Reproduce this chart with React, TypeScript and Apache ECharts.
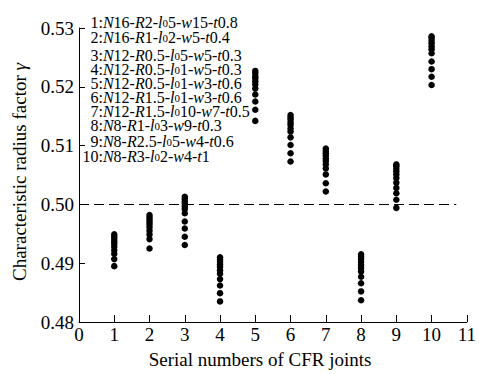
import React, { useEffect, useRef } from "react";
import * as echarts from "echarts";

const xTicks = [0, 1, 2, 3, 4, 5, 6, 7, 8, 9, 10, 11];
const yTicks = [0.48, 0.49, 0.5, 0.51, 0.52, 0.53];

const j1 = [0.4949, 0.4945, 0.4941, 0.4937, 0.4933, 0.4928, 0.4922, 0.4916, 0.4907, 0.4895];
const j2 = [0.4982, 0.4978, 0.4974, 0.497, 0.4966, 0.4961, 0.4955, 0.4949, 0.4941, 0.4925];
const j3 = [0.5013, 0.5009, 0.5005, 0.5001, 0.4997, 0.4992, 0.4985, 0.4971, 0.4959, 0.4945, 0.4931];
const j4 = [0.491, 0.4906, 0.4902, 0.4898, 0.4894, 0.4888, 0.4882, 0.4873, 0.4862, 0.4849, 0.4835];
const j5 = [0.5227, 0.5223, 0.5218, 0.5214, 0.5209, 0.5204, 0.5197, 0.5187, 0.5175, 0.5161, 0.5142];
const j6 = [0.5152, 0.5148, 0.5144, 0.5139, 0.5135, 0.5129, 0.5124, 0.5114, 0.5101, 0.5087, 0.5073];
const j7 = [0.5095, 0.5091, 0.5087, 0.5083, 0.5078, 0.5074, 0.5068, 0.5061, 0.5051, 0.5036, 0.5022];
const j8 = [0.4915, 0.4911, 0.4907, 0.4902, 0.4897, 0.4892, 0.4886, 0.4877, 0.4866, 0.4852, 0.4837];
const j9 = [0.5068, 0.5065, 0.506, 0.5056, 0.5051, 0.5045, 0.5037, 0.5028, 0.5019, 0.5008, 0.4994];
const j10 = [0.5286, 0.5283, 0.5278, 0.5274, 0.5269, 0.5264, 0.5257, 0.5243, 0.523, 0.5217, 0.5203];
const joints = [j1, j2, j3, j4, j5, j6, j7, j8, j9, j10];

const referenceValue = 0.5;
const referenceEnd = 10.7;

const legendNumbers = ["1", "2", "3", "4", "5", "6", "7", "8", "9", "10"];
const legendTexts = [
  "{i|N}16-{i|R}2-{i|l}{s|0}5-{i|w}15-{i|t}0.8",
  "{i|N}16-{i|R}1-{i|l}{s|0}2-{i|w}5-{i|t}0.4",
  "{i|N}12-{i|R}0.5-{i|l}{s|0}5-{i|w}5-{i|t}0.3",
  "{i|N}12-{i|R}0.5-{i|l}{s|0}1-{i|w}5-{i|t}0.3",
  "{i|N}12-{i|R}0.5-{i|l}{s|0}1-{i|w}3-{i|t}0.6",
  "{i|N}12-{i|R}1.5-{i|l}{s|0}1-{i|w}3-{i|t}0.6",
  "{i|N}12-{i|R}1.5-{i|l}{s|0}10-{i|w}7-{i|t}0.5",
  "{i|N}8-{i|R}1-{i|l}{s|0}3-{i|w}9-{i|t}0.3",
  "{i|N}8-{i|R}2.5-{i|l}{s|0}5-{i|w}4-{i|t}0.6",
  "{i|N}8-{i|R}3-{i|l}{s|0}2-{i|w}4-{i|t}1",
];
const legendY = [22, 37, 55, 69, 83, 97, 111, 125, 141, 156];

const xName = "Serial numbers of CFR joints";
const yName = "Characteristic radius factor {i|γ}";

const FONT = "Liberation Serif";

export default function App() {
  const ref = useRef<HTMLDivElement>(null);
  useEffect(() => {
    if (!ref.current) return;
    const chart = echarts.init(ref.current, null, { renderer: "svg" });
    const scatterData: number[][] = [];
    joints.forEach((vals, idx) => {
      vals.forEach((v) => scatterData.push([idx + 1, v]));
    });
    const rich = {
      i: { fontFamily: FONT, fontSize: 16, fontStyle: "italic", lineHeight: 13, color: "#000" },
      s: { fontFamily: FONT, fontSize: 11, lineHeight: 2, verticalAlign: "bottom", color: "#000" },
    };
    const graphics: any[] = [];
    legendNumbers.forEach((num, k) => {
      const numWidth = num.length * 8 + 4.5;
      graphics.push({
        type: "text",
        x: 103 - numWidth,
        y: legendY[k],
        style: {
          text: num + ":" + legendTexts[k],
          font: `16px "${FONT}"`,
          fill: "#000",
          align: "left",
          verticalAlign: "middle",
          lineHeight: 13,
          rich,
        },
      });
    });
    graphics.push({
      type: "text",
      x: 260,
      y: 359,
      style: {
        text: xName,
        font: `19px "${FONT}"`,
        fill: "#000",
        align: "center",
        verticalAlign: "middle",
      },
    });
    graphics.push({
      type: "text",
      x: 19,
      y: 172,
      rotation: Math.PI / 2,
      style: {
        text: yName,
        font: `19px "${FONT}"`,
        fill: "#000",
        align: "center",
        verticalAlign: "middle",
        lineHeight: 22,
        rich: {
          i: { fontFamily: FONT, fontSize: 19, fontStyle: "italic", lineHeight: 22, color: "#000" },
        },
      },
    });

    chart.setOption({
      animation: false,
      backgroundColor: "#fff",
      grid: { left: 79, right: 6, top: 28, bottom: 52, containLabel: false },
      xAxis: {
        type: "value",
        min: xTicks[0],
        max: xTicks[xTicks.length - 1],
        interval: 1,
        axisLine: { lineStyle: { color: "#000", width: 1 } },
        axisTick: { inside: true, length: 7, lineStyle: { color: "#000" } },
        axisLabel: { color: "#000", fontFamily: FONT, fontSize: 19, margin: 3 },
        splitLine: { show: false },
      },
      yAxis: {
        type: "value",
        min: yTicks[0],
        max: yTicks[yTicks.length - 1],
        interval: 0.01,
        axisLine: { show: true, lineStyle: { color: "#000", width: 1 } },
        axisTick: { show: true, inside: true, length: 6, lineStyle: { color: "#000" } },
        axisLabel: {
          color: "#000",
          fontFamily: FONT,
          fontSize: 19,
          margin: 5,
          formatter: (v: number) => v.toFixed(2),
        },
        splitLine: { show: false },
      },
      series: [
        {
          type: "scatter",
          data: scatterData,
          symbol: "circle",
          symbolSize: 6.5,
          itemStyle: { color: "#000", opacity: 1 },
          markLine: {
            silent: true,
            symbol: "none",
            label: { show: false },
            lineStyle: { color: "#000", type: [10, 5], width: 1, opacity: 1 },
            data: [[{ coord: [0, referenceValue] }, { coord: [referenceEnd, referenceValue] }]],
          },
        },
      ],
      graphic: graphics,
    });
    return () => chart.dispose();
  }, []);
  return (
    <div
      ref={ref}
      style={{ position: "fixed", left: 0, top: 0, width: 479, height: 374, background: "#fff" }}
    />
  );
}
